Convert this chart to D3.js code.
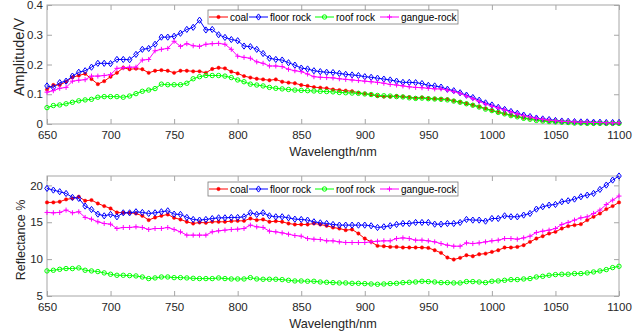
<!DOCTYPE html>
<html>
<head>
<meta charset="utf-8">
<script src="https://cdn.jsdelivr.net/npm/d3@7"></script>
<style>
  body { margin: 0; background: #fff; }
  svg { display: block; }
  text { font-family: "Liberation Sans", Arial, sans-serif; }
</style>
</head>
<body>
<svg id="chart" width="642" height="333"></svg>
<script>
// wavelength grid, nm
const wavelengths = [
  650, 655, 660, 665, 670, 675, 680, 685, 690, 695,
  700, 705, 710, 715, 720, 725, 730, 735, 740, 745,
  750, 755, 760, 765, 770, 775, 780, 785, 790, 795,
  800, 805, 810, 815, 820, 825, 830, 835, 840, 845,
  850, 855, 860, 865, 870, 875, 880, 885, 890, 895,
  900, 905, 910, 915, 920, 925, 930, 935, 940, 945,
  950, 955, 960, 965, 970, 975, 980, 985, 990, 995,
  1000, 1005, 1010, 1015, 1020, 1025, 1030, 1035, 1040, 1045,
  1050, 1055, 1060, 1065, 1070, 1075, 1080, 1085, 1090, 1095,
  1100
];

const seriesNames = ["coal", "floor rock", "roof rock", "gangue-rock"];
const xTicks = [650, 700, 750, 800, 850, 900, 950, 1000, 1050, 1100];
const ampTicks = [0, 0.1, 0.2, 0.3, 0.4];
const refTicks = [5, 10, 15, 20];

// top panel: amplitude (V)
const ampCoal = [
  0.116, 0.131, 0.131, 0.142, 0.157, 0.163, 0.169, 0.151, 0.134, 0.144,
  0.159, 0.172, 0.189, 0.184, 0.186, 0.184, 0.172, 0.179, 0.181, 0.179,
  0.172, 0.179, 0.179, 0.177, 0.177, 0.172, 0.185, 0.189, 0.187, 0.176,
  0.170, 0.161, 0.156, 0.152, 0.150, 0.147, 0.150, 0.142, 0.139, 0.137,
  0.131, 0.128, 0.124, 0.122, 0.120, 0.116, 0.114, 0.112, 0.110, 0.105,
  0.102, 0.099, 0.094, 0.092, 0.092, 0.094, 0.092, 0.090, 0.087, 0.089,
  0.086, 0.085, 0.084, 0.083, 0.078, 0.074, 0.069, 0.064, 0.058, 0.052,
  0.046, 0.040, 0.035, 0.030, 0.026, 0.021, 0.018, 0.015, 0.012, 0.010,
  0.009, 0.007, 0.006, 0.005, 0.004, 0.003, 0.003, 0.003, 0.002, 0.002,
  0.002
];
const ampFloor = [
  0.128, 0.123, 0.139, 0.144, 0.161, 0.174, 0.179, 0.191, 0.204, 0.204,
  0.203, 0.217, 0.217, 0.216, 0.234, 0.251, 0.254, 0.268, 0.292, 0.292,
  0.295, 0.305, 0.318, 0.325, 0.349, 0.316, 0.318, 0.300, 0.291, 0.284,
  0.280, 0.262, 0.260, 0.251, 0.237, 0.221, 0.217, 0.215, 0.206, 0.198,
  0.188, 0.185, 0.179, 0.176, 0.174, 0.173, 0.170, 0.167, 0.165, 0.163,
  0.159, 0.157, 0.154, 0.151, 0.148, 0.144, 0.140, 0.140, 0.139, 0.136,
  0.130, 0.128, 0.124, 0.117, 0.112, 0.105, 0.097, 0.089, 0.080, 0.071,
  0.064, 0.056, 0.049, 0.042, 0.036, 0.030, 0.025, 0.020, 0.017, 0.015,
  0.012, 0.010, 0.009, 0.008, 0.007, 0.007, 0.006, 0.006, 0.005, 0.005,
  0.005
];
const ampRoof = [
  0.055, 0.062, 0.064, 0.068, 0.073, 0.078, 0.081, 0.083, 0.090, 0.092,
  0.092, 0.092, 0.090, 0.094, 0.102, 0.110, 0.114, 0.119, 0.134, 0.132,
  0.132, 0.132, 0.137, 0.152, 0.159, 0.163, 0.163, 0.163, 0.161, 0.156,
  0.148, 0.142, 0.134, 0.131, 0.128, 0.123, 0.120, 0.118, 0.116, 0.114,
  0.113, 0.112, 0.111, 0.110, 0.109, 0.108, 0.106, 0.105, 0.104, 0.103,
  0.101, 0.099, 0.096, 0.095, 0.094, 0.092, 0.091, 0.088, 0.086, 0.087,
  0.085, 0.084, 0.083, 0.081, 0.077, 0.073, 0.068, 0.063, 0.057, 0.050,
  0.045, 0.039, 0.034, 0.028, 0.024, 0.019, 0.016, 0.012, 0.010, 0.008,
  0.007, 0.006, 0.005, 0.003, 0.003, 0.002, 0.002, 0.002, 0.002, 0.002,
  0.002
];
const ampGangue = [
  0.107, 0.112, 0.120, 0.123, 0.144, 0.147, 0.149, 0.161, 0.161, 0.163,
  0.166, 0.187, 0.189, 0.191, 0.191, 0.215, 0.217, 0.246, 0.251, 0.254,
  0.278, 0.261, 0.270, 0.263, 0.261, 0.268, 0.270, 0.271, 0.268, 0.251,
  0.228, 0.224, 0.221, 0.209, 0.204, 0.195, 0.195, 0.193, 0.184, 0.179,
  0.176, 0.168, 0.159, 0.157, 0.156, 0.155, 0.152, 0.150, 0.148, 0.146,
  0.144, 0.142, 0.140, 0.137, 0.133, 0.131, 0.128, 0.125, 0.123, 0.122,
  0.120, 0.118, 0.118, 0.114, 0.109, 0.103, 0.094, 0.085, 0.076, 0.067,
  0.060, 0.054, 0.047, 0.040, 0.034, 0.028, 0.024, 0.019, 0.016, 0.013,
  0.011, 0.009, 0.008, 0.007, 0.006, 0.006, 0.005, 0.005, 0.004, 0.004,
  0.004
];

// bottom panel: reflectance (%)
const refCoal = [
  17.69, 17.69, 17.78, 18.10, 18.23, 18.46, 17.91, 18.00, 17.55, 17.19,
  16.87, 16.33, 16.28, 16.28, 16.19, 15.87, 15.29, 15.65, 15.87, 16.06,
  15.60, 15.38, 15.06, 14.83, 14.97, 14.92, 15.06, 15.06, 15.06, 15.15,
  15.19, 15.19, 15.51, 15.29, 15.38, 15.06, 15.15, 15.06, 14.83, 14.70,
  14.70, 14.70, 14.83, 14.70, 14.52, 14.29, 14.15, 13.93, 14.02, 13.47,
  12.79, 12.34, 11.80, 11.75, 11.66, 11.66, 11.57, 11.57, 11.57, 11.57,
  11.52, 11.21, 10.85, 10.21, 9.94, 10.17, 10.53, 10.39, 10.66, 10.75,
  10.98, 11.21, 11.57, 11.57, 11.66, 11.89, 12.34, 12.79, 13.11, 13.47,
  13.70, 14.15, 14.47, 14.61, 14.74, 15.29, 15.74, 16.19, 16.78, 17.19,
  17.69
];
const refFloor = [
  19.59, 19.36, 19.14, 18.90, 18.37, 18.23, 17.19, 16.73, 16.10, 15.87,
  16.06, 15.74, 16.28, 16.28, 16.42, 16.33, 16.19, 16.28, 16.42, 16.55,
  16.10, 16.06, 15.65, 15.38, 15.29, 15.38, 15.50, 15.60, 15.60, 15.65,
  15.65, 15.74, 16.28, 16.06, 16.28, 15.87, 15.74, 15.74, 15.60, 15.42,
  15.38, 15.29, 15.06, 14.92, 14.83, 14.70, 14.61, 14.61, 14.61, 14.61,
  14.61, 14.52, 14.29, 14.38, 14.52, 14.70, 14.83, 14.83, 14.97, 14.97,
  14.97, 14.74, 14.74, 14.83, 14.83, 14.97, 15.38, 15.29, 15.29, 15.15,
  15.51, 15.51, 15.87, 15.74, 15.74, 15.97, 16.19, 16.78, 17.10, 17.32,
  17.41, 17.78, 17.91, 18.14, 18.46, 18.68, 18.91, 19.45, 20.04, 20.72,
  21.27
];
const refRoof = [
  8.40, 8.49, 8.62, 8.72, 8.72, 8.81, 8.49, 8.40, 8.31, 8.13,
  7.95, 7.81, 7.81, 7.76, 7.72, 7.58, 7.36, 7.45, 7.58, 7.58,
  7.49, 7.49, 7.45, 7.40, 7.36, 7.36, 7.36, 7.45, 7.36, 7.31,
  7.31, 7.31, 7.49, 7.31, 7.27, 7.27, 7.27, 7.22, 7.13, 7.04,
  7.04, 7.00, 7.00, 6.90, 6.86, 6.81, 6.77, 6.77, 6.72, 6.72,
  6.68, 6.63, 6.59, 6.63, 6.68, 6.72, 6.81, 6.86, 6.90, 7.00,
  6.95, 6.90, 6.81, 6.81, 6.77, 6.77, 6.95, 6.95, 6.90, 6.81,
  7.00, 7.04, 7.13, 7.22, 7.22, 7.31, 7.36, 7.58, 7.67, 7.81,
  7.90, 7.95, 7.95, 8.04, 8.04, 8.13, 8.26, 8.40, 8.58, 8.85,
  9.03
];
const refGangue = [
  16.33, 16.28, 16.33, 16.65, 16.28, 16.42, 15.65, 15.42, 15.06, 14.83,
  14.74, 14.15, 14.29, 14.29, 14.38, 14.29, 14.02, 14.15, 14.15, 14.29,
  14.02, 13.70, 13.25, 13.25, 13.25, 13.25, 13.70, 13.84, 13.93, 14.02,
  14.06, 14.15, 14.61, 14.38, 14.29, 13.79, 13.70, 13.56, 13.38, 13.20,
  13.11, 12.79, 12.70, 12.66, 12.48, 12.48, 12.34, 12.25, 12.25, 12.25,
  12.25, 12.34, 12.43, 12.48, 12.48, 12.79, 12.88, 12.79, 12.57, 12.57,
  12.48, 12.34, 12.11, 11.89, 11.75, 11.75, 12.20, 12.11, 12.20, 12.34,
  12.48, 12.57, 12.79, 12.79, 12.70, 12.88, 13.11, 13.61, 13.79, 13.93,
  14.15, 14.70, 14.97, 15.29, 15.60, 15.74, 16.19, 16.65, 17.41, 18.00,
  18.55
];

// styling per series (same order as seriesNames)
const seriesStyle = [
  { color: "#ff0000", marker: "dot" },
  { color: "#0000ff", marker: "diamond" },
  { color: "#00ff00", marker: "circle" },
  { color: "#ff00ff", marker: "plus" }
];

const markerPath = {
  dot: "M1.7,0A1.7,1.7,0,1,1,-1.7,0A1.7,1.7,0,1,1,1.7,0Z",
  diamond: "M0,-3.1L2.3,0L0,3.1L-2.3,0Z",
  circle: "M2.2,0A2.2,2.2,0,1,1,-2.2,0A2.2,2.2,0,1,1,2.2,0Z",
  plus: "M-2.5,0H2.5M0,-2.5V2.5"
};

const axisColor = "#a6a6a6";
const textColor = "#262626";

const svg = d3.select("#chart");

function drawPanel(cfg) {
  const { left, right, top, bottom, yDomain, yTicks, yFormat, series, yLabel, legend } = cfg;

  const x = d3.scaleLinear().domain([650, 1100]).range([left, right]);
  const y = d3.scaleLinear().domain(yDomain).range([bottom, top]);

  const g = svg.append("g");

  // box
  g.append("rect")
    .attr("x", left).attr("y", top)
    .attr("width", right - left).attr("height", bottom - top)
    .attr("fill", "#fff")
    .attr("stroke", axisColor)
    .attr("stroke-width", 1);

  // axes, MATLAB style: ticks inside, on all four sides
  const styleAxis = (sel) => {
    sel.select(".domain").remove();
    sel.selectAll(".tick line").attr("stroke", axisColor);
    sel.selectAll(".tick text")
      .attr("fill", textColor)
      .attr("font-size", "11.5px")
      .attr("font-family", "'Liberation Sans', Arial, sans-serif");
  };

  g.append("g")
    .attr("transform", `translate(0,${bottom})`)
    .call(d3.axisBottom(x).tickValues(xTicks).tickSizeInner(-5).tickSizeOuter(0).tickPadding(7).tickFormat(d3.format("d")))
    .call(styleAxis);
  g.append("g")
    .attr("transform", `translate(0,${top})`)
    .call(d3.axisTop(x).tickValues(xTicks).tickSizeInner(-5).tickSizeOuter(0).tickFormat(""))
    .call(styleAxis);
  g.append("g")
    .attr("transform", `translate(${left},0)`)
    .call(d3.axisLeft(y).tickValues(yTicks).tickSizeInner(-5).tickSizeOuter(0).tickPadding(4).tickFormat(yFormat))
    .call(styleAxis);
  g.append("g")
    .attr("transform", `translate(${right},0)`)
    .call(d3.axisRight(y).tickValues(yTicks).tickSizeInner(-5).tickSizeOuter(0).tickFormat(""))
    .call(styleAxis);

  // lines and markers
  const line = d3.line().x((d) => x(d[0])).y((d) => y(d[1]));

  series.forEach((values, i) => {
    const st = seriesStyle[i];
    const pts = wavelengths.map((w, k) => [w, values[k]]);
    const sg = g.append("g");
    sg.append("path")
      .datum(pts)
      .attr("d", line)
      .attr("fill", "none")
      .attr("stroke", st.color)
      .attr("stroke-width", 1);
    sg.selectAll("path.mk")
      .data(pts)
      .enter()
      .append("path")
      .attr("class", "mk")
      .attr("transform", (d) => `translate(${x(d[0])},${y(d[1])})`)
      .attr("d", markerPath[st.marker])
      .attr("fill", st.marker === "dot" ? st.color : "none")
      .attr("stroke", st.color)
      .attr("stroke-width", st.marker === "dot" ? 0.5 : 1);
  });

  // axis labels
  g.append("text")
    .attr("x", (left + right) / 2)
    .attr("y", bottom + 32)
    .attr("text-anchor", "middle")
    .attr("font-size", "12.7px")
    .attr("fill", textColor)
    .text("Wavelength/nm");

  g.append("text")
    .attr("transform", `translate(${yLabel.x},${yLabel.y}) rotate(-90)`)
    .attr("text-anchor", "middle")
    .attr("font-size", yLabel.size)
    .attr("fill", textColor)
    .text(yLabel.text);

  // legend
  const lg = g.append("g").attr("transform", `translate(${legend.x},${legend.y})`);
  lg.append("rect")
    .attr("width", legend.w).attr("height", legend.h)
    .attr("fill", "#fff")
    .attr("stroke", "#7a7a7a")
    .attr("stroke-width", 0.8);
  seriesNames.forEach((name, i) => {
    const st = seriesStyle[i];
    const ox = legend.offsets[i];
    const cy = legend.h / 2;
    lg.append("line")
      .attr("x1", ox).attr("x2", ox + 19)
      .attr("y1", cy).attr("y2", cy)
      .attr("stroke", st.color).attr("stroke-width", 1);
    lg.append("path")
      .attr("transform", `translate(${ox + 9.5},${cy})`)
      .attr("d", markerPath[st.marker])
      .attr("fill", st.marker === "dot" ? st.color : "none")
      .attr("stroke", st.color)
      .attr("stroke-width", st.marker === "dot" ? 0.5 : 1);
    lg.append("text")
      .attr("x", ox + 21)
      .attr("y", cy)
      .attr("dy", "0.35em")
      .attr("font-size", "10px")
      .attr("fill", "#000")
      .text(name);
  });
}

drawPanel({
  left: 47, right: 619, top: 5, bottom: 124,
  yDomain: [0, 0.4], yTicks: ampTicks, yFormat: (d) => (d === 0 ? "0" : d3.format(".1f")(d)),
  series: [ampCoal, ampFloor, ampRoof, ampGangue],
  yLabel: { text: "Amplitude/V", x: 24, y: 57, size: "14.5px" },
  legend: { x: 208, y: 10, w: 250, h: 14, offsets: [1, 41, 107, 172] }
});

drawPanel({
  left: 47, right: 619, top: 176, bottom: 296,
  yDomain: [5, 21.27], yTicks: refTicks, yFormat: d3.format("d"),
  series: [refCoal, refFloor, refRoof, refGangue],
  yLabel: { text: "Reflectance %", x: 25, y: 240, size: "12.5px" },
  legend: { x: 208, y: 182, w: 250, h: 14, offsets: [1, 41, 107, 172] }
});
</script>
</body>
</html>
